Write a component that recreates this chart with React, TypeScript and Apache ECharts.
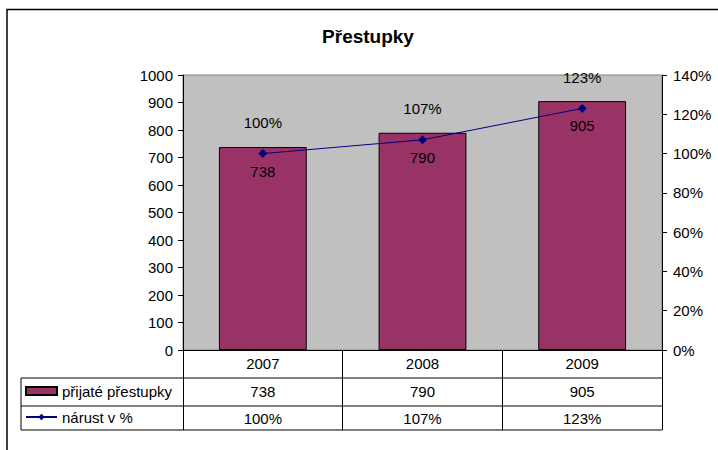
import React, { useEffect, useRef } from "react";
import * as echarts from "echarts";

const years = ["2007", "2008", "2009"];
const acceptedOffences = [738, 790, 905];
const growthPercent = [100, 107, 123];
const seriesNames = ["přijaté přestupky", "nárust v %"];
const titleText = "Přestupky";

const FONT = "'Liberation Sans', Arial, sans-serif";

export default function App() {
  const ref = useRef<HTMLDivElement>(null);

  useEffect(() => {
    if (!ref.current) return;
    const chart = echarts.init(ref.current, undefined, { renderer: "svg" });

    const gridLeft = 183;
    const gridRight = 662;
    const gridTop = 75;
    const gridBottom = 350;
    const row1 = 378;
    const row2 = 406;
    const row3 = 430;
    const tableLeft = 21;
    const lineStyle = { stroke: "#000", lineWidth: 1 };

    const label = { fontFamily: FONT, fontSize: 15, color: "#000" };

    chart.setOption({
      animation: false,
      backgroundColor: "#fff",
      textStyle: { fontFamily: FONT },
      grid: {
        left: gridLeft,
        right: 718 - gridRight,
        top: gridTop,
        bottom: 450 - gridBottom,
        show: true,
        backgroundColor: "#c0c0c0",
        borderColor: "#808080",
        borderWidth: 1,
      },
      legend: {
        orient: "vertical",
        left: 25,
        top: 383,
        padding: 0,
        itemGap: 10,
        itemWidth: 31,
        itemHeight: 8,
        textStyle: { ...label, lineHeight: 16 },
        data: [
          { name: seriesNames[0], icon: "rect" },
          { name: seriesNames[1] },
        ],
      },
      xAxis: [
        {
          type: "category",
          data: years,
          position: "bottom",
          axisLine: { show: true, lineStyle: { color: "#000", width: 1 } },
          axisTick: { show: true, length: row3 - gridBottom, interval: 0, lineStyle: { color: "#000", width: 1 } },
          axisLabel: { ...label, margin: 6, interval: 0 },
          splitLine: { show: false },
        },
        {
          type: "category",
          data: acceptedOffences.map((v) => String(v)),
          position: "bottom",
          offset: row1 - gridBottom,
          axisLine: { show: false },
          axisTick: { show: false },
          axisLabel: { ...label, margin: 6, interval: 0 },
        },
        {
          type: "category",
          data: growthPercent.map((v) => v + "%"),
          position: "bottom",
          offset: row2 - gridBottom,
          axisLine: { show: false },
          axisTick: { show: false },
          axisLabel: { ...label, margin: 5, interval: 0 },
        },
      ],
      yAxis: [
        {
          type: "value",
          min: 0,
          max: 1000,
          interval: 100,
          position: "left",
          axisLine: { show: true, lineStyle: { color: "#000", width: 1 } },
          axisTick: { show: true, length: 5, lineStyle: { color: "#000" } },
          axisLabel: { ...label, margin: 10, formatter: (v: number) => String(v) },
          splitLine: { show: false },
        },
        {
          type: "value",
          min: 0,
          max: 140,
          interval: 20,
          position: "right",
          axisLine: { show: true, lineStyle: { color: "#000", width: 1 } },
          axisTick: { show: true, length: 5, lineStyle: { color: "#000" } },
          axisLabel: { ...label, margin: 11, formatter: "{value}%" },
          splitLine: { show: false },
        },
      ],
      series: [
        {
          name: seriesNames[0],
          type: "bar",
          xAxisIndex: 0,
          yAxisIndex: 0,
          data: acceptedOffences,
          barWidth: "55%",
          itemStyle: { color: "#993366", borderColor: "#000", borderWidth: 1 },
          label: { show: true, position: "insideTop", distance: 17, ...label },
        },
        {
          name: seriesNames[1],
          type: "line",
          xAxisIndex: 0,
          yAxisIndex: 1,
          data: growthPercent,
          symbol: "diamond",
          symbolSize: 9,
          lineStyle: { color: "#000080", width: 1 },
          itemStyle: { color: "#000080" },
          label: { show: true, position: "top", distance: 19, formatter: "{c}%", ...label },
          z: 5,
        },
      ],
      graphic: [
        {
          type: "polyline",
          shape: { points: [[7, 450], [7, 9.5], [718, 9.5]] },
          style: { stroke: "#000", lineWidth: 1.5, fill: null },
          silent: true,
        },
        {
          type: "text",
          x: 368,
          y: 36,
          style: {
            text: titleText,
            fontFamily: FONT,
            fontSize: 19,
            fontWeight: "bold",
            fill: "#000",
            align: "center",
            verticalAlign: "middle",
          },
        },
        { type: "line", shape: { x1: tableLeft, y1: row1, x2: gridRight, y2: row1 }, style: lineStyle, silent: true },
        { type: "line", shape: { x1: tableLeft, y1: row2, x2: gridRight, y2: row2 }, style: lineStyle, silent: true },
        { type: "line", shape: { x1: tableLeft, y1: row3, x2: gridRight, y2: row3 }, style: lineStyle, silent: true },
        { type: "line", shape: { x1: tableLeft, y1: row1, x2: tableLeft, y2: row3 }, style: lineStyle, silent: true },
      ],
    });

    return () => chart.dispose();
  }, []);

  return (
    <div
      ref={ref}
      style={{ position: "absolute", left: 0, top: 0, width: 718, height: 450 }}
    />
  );
}
